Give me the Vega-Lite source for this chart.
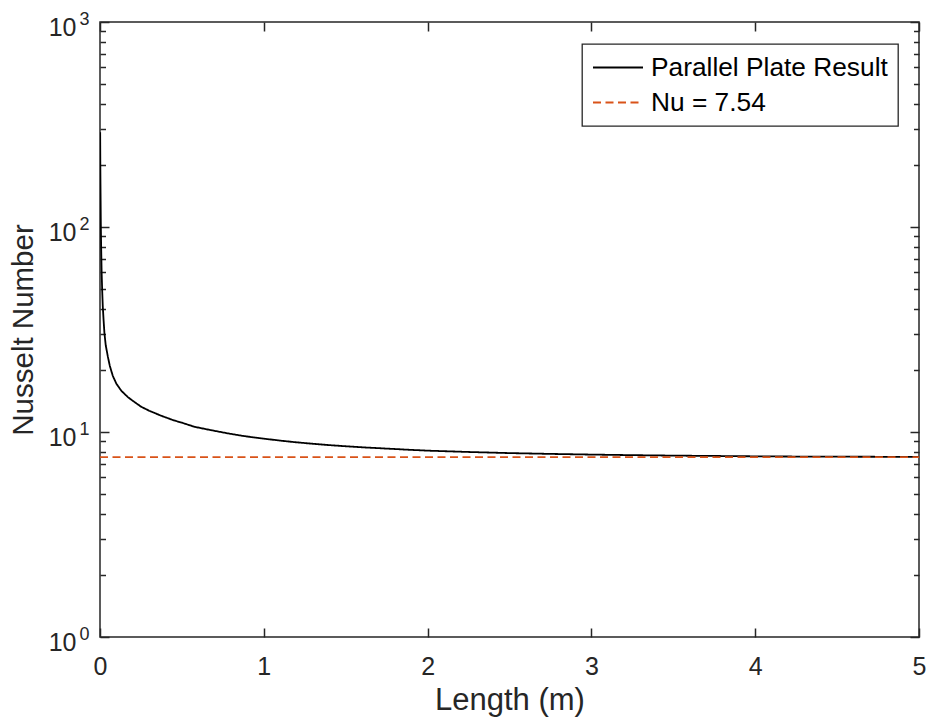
{
  "$schema": "https://vega.github.io/schema/vega-lite/v6.json",
  "width": 819,
  "height": 615,
  "autosize": "none",
  "padding": {"left": 100, "top": 22, "right": 10, "bottom": 87},
  "background": "white",
  "config": {
    "view": {"stroke": "#262626", "strokeWidth": 1.5},
    "font": "Liberation Sans",
    "axis": {
      "grid": false,
      "domain": false,
      "labelFont": "Liberation Sans",
      "titleFont": "Liberation Sans",
      "labelColor": "#262626",
      "titleColor": "#262626",
      "tickColor": "#262626",
      "tickWidth": 1.5,
      "titleFontWeight": "normal"
    },
    "legend": {"strokeWidth": 1.3}
  },
  "data": {
    "values": [
      {"x": 0.001, "nu": 290, "series": "Parallel Plate Result"},
      {"x": 0.002, "nu": 200, "series": "Parallel Plate Result"},
      {"x": 0.003, "nu": 160, "series": "Parallel Plate Result"},
      {"x": 0.005, "nu": 105, "series": "Parallel Plate Result"},
      {"x": 0.007, "nu": 80, "series": "Parallel Plate Result"},
      {"x": 0.01, "nu": 60, "series": "Parallel Plate Result"},
      {"x": 0.013, "nu": 50, "series": "Parallel Plate Result"},
      {"x": 0.017, "nu": 41, "series": "Parallel Plate Result"},
      {"x": 0.022, "nu": 35, "series": "Parallel Plate Result"},
      {"x": 0.027, "nu": 30.4, "series": "Parallel Plate Result"},
      {"x": 0.035, "nu": 26.5, "series": "Parallel Plate Result"},
      {"x": 0.048, "nu": 23.3, "series": "Parallel Plate Result"},
      {"x": 0.06, "nu": 21, "series": "Parallel Plate Result"},
      {"x": 0.078, "nu": 18.8, "series": "Parallel Plate Result"},
      {"x": 0.1, "nu": 17.2, "series": "Parallel Plate Result"},
      {"x": 0.13, "nu": 15.9, "series": "Parallel Plate Result"},
      {"x": 0.17, "nu": 14.8, "series": "Parallel Plate Result"},
      {"x": 0.2, "nu": 14.2, "series": "Parallel Plate Result"},
      {"x": 0.25, "nu": 13.3, "series": "Parallel Plate Result"},
      {"x": 0.3, "nu": 12.7, "series": "Parallel Plate Result"},
      {"x": 0.374, "nu": 12.0, "series": "Parallel Plate Result"},
      {"x": 0.45, "nu": 11.4, "series": "Parallel Plate Result"},
      {"x": 0.5, "nu": 11.1, "series": "Parallel Plate Result"},
      {"x": 0.577, "nu": 10.6, "series": "Parallel Plate Result"},
      {"x": 0.68, "nu": 10.2, "series": "Parallel Plate Result"},
      {"x": 0.78, "nu": 9.85, "series": "Parallel Plate Result"},
      {"x": 0.88, "nu": 9.55, "series": "Parallel Plate Result"},
      {"x": 0.984, "nu": 9.31, "series": "Parallel Plate Result"},
      {"x": 1.1, "nu": 9.08, "series": "Parallel Plate Result"},
      {"x": 1.19, "nu": 8.92, "series": "Parallel Plate Result"},
      {"x": 1.3, "nu": 8.76, "series": "Parallel Plate Result"},
      {"x": 1.39, "nu": 8.64, "series": "Parallel Plate Result"},
      {"x": 1.5, "nu": 8.52, "series": "Parallel Plate Result"},
      {"x": 1.59, "nu": 8.43, "series": "Parallel Plate Result"},
      {"x": 1.7, "nu": 8.34, "series": "Parallel Plate Result"},
      {"x": 1.8, "nu": 8.26, "series": "Parallel Plate Result"},
      {"x": 1.9, "nu": 8.18, "series": "Parallel Plate Result"},
      {"x": 2.0, "nu": 8.11, "series": "Parallel Plate Result"},
      {"x": 2.25, "nu": 7.99, "series": "Parallel Plate Result"},
      {"x": 2.5, "nu": 7.89, "series": "Parallel Plate Result"},
      {"x": 2.75, "nu": 7.82, "series": "Parallel Plate Result"},
      {"x": 3.0, "nu": 7.76, "series": "Parallel Plate Result"},
      {"x": 3.25, "nu": 7.71, "series": "Parallel Plate Result"},
      {"x": 3.5, "nu": 7.67, "series": "Parallel Plate Result"},
      {"x": 3.75, "nu": 7.64, "series": "Parallel Plate Result"},
      {"x": 4.0, "nu": 7.61, "series": "Parallel Plate Result"},
      {"x": 4.25, "nu": 7.59, "series": "Parallel Plate Result"},
      {"x": 4.5, "nu": 7.58, "series": "Parallel Plate Result"},
      {"x": 4.75, "nu": 7.57, "series": "Parallel Plate Result"},
      {"x": 5.0, "nu": 7.56, "series": "Parallel Plate Result"},
      {"x": 0, "nu": 7.54, "series": "Nu = 7.54"},
      {"x": 5, "nu": 7.54, "series": "Nu = 7.54"}
    ]
  },
  "resolve": {"axis": {"x": "independent", "y": "independent"}},
  "layer": [
    {
      "mark": {"type": "line", "strokeWidth": 1.8, "clip": true},
      "encoding": {
        "x": {
          "field": "x", "type": "quantitative",
          "scale": {"domain": [0, 5], "nice": false, "zero": false},
          "axis": {
            "orient": "bottom", "values": [0, 1, 2, 3, 4, 5], "format": "d",
            "ticks": false, "labelFontSize": 25, "labelPadding": 17, "labelFlush": false,
            "title": "Length (m)", "titleFontSize": 31, "titlePadding": 6
          }
        },
        "y": {
          "field": "nu", "type": "quantitative",
          "scale": {"type": "log", "domain": [1, 1000], "nice": false},
          "axis": {
            "orient": "left", "values": [1, 10, 100, 1000], "labelExpr": "'10'",
            "ticks": false, "labelFontSize": 25, "labelPadding": 24, "labelOffset": 5,
            "title": "Nusselt Number", "titleFontSize": 29.5, "titlePadding": 10
          }
        },
        "color": {
          "field": "series", "type": "nominal",
          "scale": {"domain": ["Parallel Plate Result", "Nu = 7.54"], "range": ["#000000", "#D95319"]},
          "legend": {
            "title": null, "orient": "none", "legendX": 482, "legendY": 22,
            "symbolType": "M-1,0H3", "symbolSize": 625, "symbolStrokeWidth": 1.8,
            "labelFontSize": 26.3, "labelFont": "Liberation Sans", "labelColor": "#000000",
            "labelOffset": 32, "labelLimit": 400, "strokeColor": "#262626", "fillColor": "white",
            "padding": 10, "rowPadding": 8
          }
        },
        "strokeDash": {
          "field": "series", "type": "nominal",
          "scale": {"domain": ["Parallel Plate Result", "Nu = 7.54"], "range": [[1, 0], [8, 4.5]]},
          "legend": {
            "title": null, "orient": "none", "legendX": 482, "legendY": 22,
            "symbolType": "M-1,0H3", "symbolSize": 625, "symbolStrokeWidth": 1.8,
            "labelFontSize": 26.3, "labelFont": "Liberation Sans", "labelColor": "#000000",
            "labelOffset": 32, "labelLimit": 400, "strokeColor": "#262626", "fillColor": "white",
            "padding": 10, "rowPadding": 8
          }
        }
      }
    },
    {
      "mark": {"type": "point", "opacity": 0},
      "encoding": {
        "x": {
          "field": "x", "type": "quantitative",
          "axis": {"orient": "bottom", "values": [0, 1, 2, 3, 4, 5], "labels": false, "tickSize": -9, "title": null}
        },
        "y": {
          "field": "nu", "type": "quantitative",
          "axis": {
            "orient": "left", "values": [1, 10, 100, 1000],
            "labelExpr": "'' + round(log(datum.value) / LN10)",
            "ticks": false, "labelFontSize": 18, "labelPadding": 11, "labelOffset": -3, "title": null
          }
        }
      }
    },
    {
      "mark": {"type": "point", "opacity": 0},
      "encoding": {
        "x": {
          "field": "x", "type": "quantitative",
          "axis": {"orient": "top", "values": [0, 1, 2, 3, 4, 5], "labels": false, "tickSize": -9, "title": null}
        },
        "y": {
          "field": "nu", "type": "quantitative",
          "axis": {
            "orient": "left",
            "values": [1, 2, 3, 4, 5, 6, 7, 8, 9, 10, 20, 30, 40, 50, 60, 70, 80, 90, 100, 200, 300, 400, 500, 600, 700, 800, 900, 1000],
            "labels": false, "title": null,
            "tickSize": {"condition": {"test": "indexof([1, 10, 100, 1000], datum.value) >= 0", "value": -9}, "value": -5.5}
          }
        }
      }
    },
    {
      "mark": {"type": "point", "opacity": 0},
      "encoding": {
        "x": {"field": "x", "type": "quantitative", "axis": null},
        "y": {
          "field": "nu", "type": "quantitative",
          "axis": {
            "orient": "right",
            "values": [1, 2, 3, 4, 5, 6, 7, 8, 9, 10, 20, 30, 40, 50, 60, 70, 80, 90, 100, 200, 300, 400, 500, 600, 700, 800, 900, 1000],
            "labels": false, "title": null,
            "tickSize": {"condition": {"test": "indexof([1, 10, 100, 1000], datum.value) >= 0", "value": -9}, "value": -5.5}
          }
        }
      }
    }
  ]
}
